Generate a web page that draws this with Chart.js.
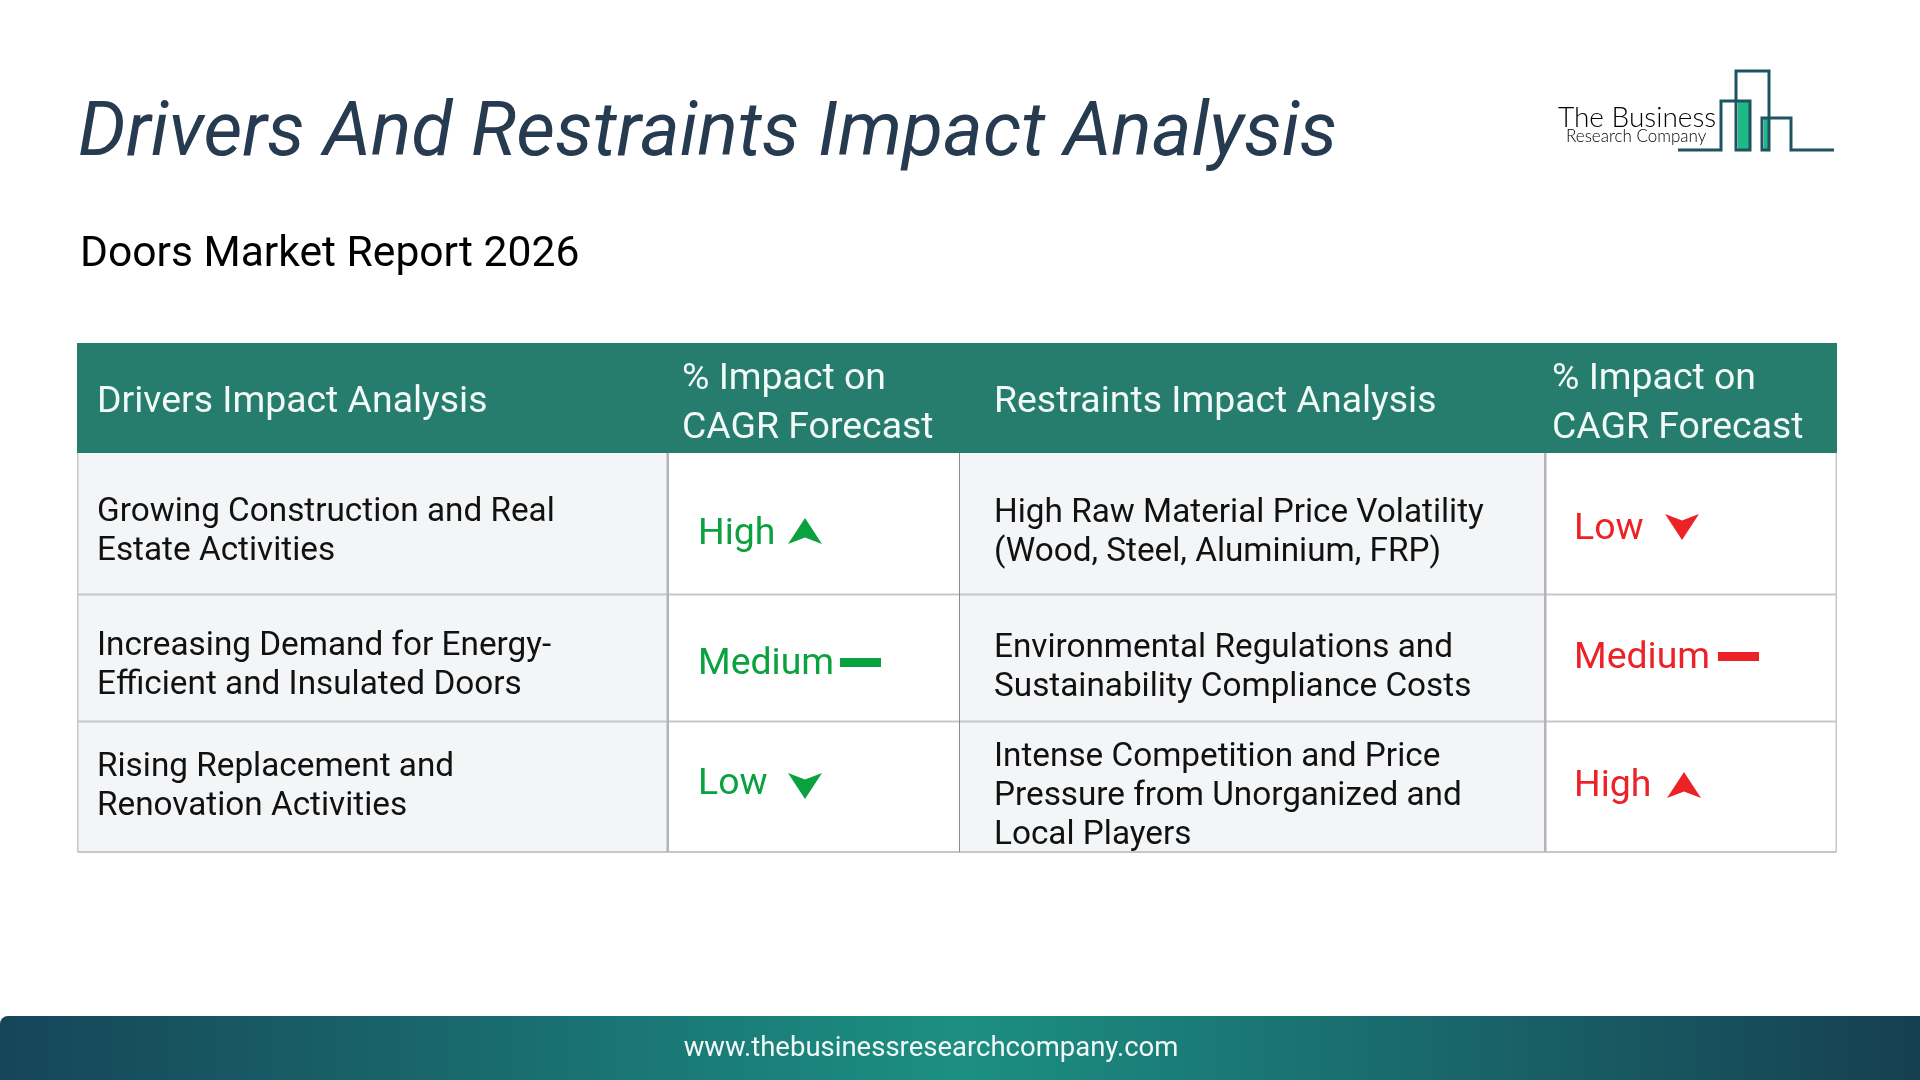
<!DOCTYPE html>
<html><head><meta charset="utf-8">
<style>html,body{margin:0;padding:0;background:#fff;overflow:hidden}canvas{display:block}</style>
<script src="https://cdn.jsdelivr.net/npm/chart.js@4"></script>
</head><body><canvas id="c" width="1920" height="1080"></canvas>
<script>
// ---- content
const chartTitle = "Drivers And Restraints Impact Analysis";
const chartSubtitle = "Doors Market Report 2026";
const footerUrl = "www.thebusinessresearchcompany.com";
const logoLines = ["The Business", "Research Company"];
const columnKeys = ["drivers", "driverImpact", "restraints", "restraintImpact"];
const rowKeys = ["first", "second", "third"];
const headerLabels = [["Drivers Impact Analysis"], ["% Impact on", "CAGR Forecast"], ["Restraints Impact Analysis"], ["% Impact on", "CAGR Forecast"]];
const driverLabels = [["Growing Construction and Real", "Estate Activities"], ["Increasing Demand for Energy-", "Efficient and Insulated Doors"], ["Rising Replacement and", "Renovation Activities"]];
const restraintLabels = [["High Raw Material Price Volatility", "(Wood, Steel, Aluminium, FRP)"], ["Environmental Regulations and", "Sustainability Compliance Costs"], ["Intense Competition and Price", "Pressure from Unorganized and", "Local Players"]];
const driverImpact = ["High", "Medium", "Low"];
const restraintImpact = ["Low", "Medium", "High"];

// ---- layout (page pixels)
const columnEdges = [77.5, 667.5, 959.5, 1545, 1836.5];
const rowEdges = [453, 594.5, 721.5, 852];
const headerTop = 343;
const bodyFont = '400 33.3px Roboto';
const impactFont = '400 37.4px Roboto';
const headerFont = '400 37.4px Roboto';
const green = '#0aa13f', red = '#ec2227', rowFill = '#f3f5f7', lineColor = '#c6c7ca', headerFill = '#267c6d';
const driverTextPos = {x: 97, baselines: [[521, 560], [655, 694], [776, 815]]};
const restraintTextPos = {x: 994, baselines: [[522, 561], [657, 696], [766, 805, 844]]};
const headerPos = [{x: 97, b: [412]}, {x: 682, b: [389, 438]}, {x: 994, b: [412]}, {x: 1552, b: [389, 438]}];
const driverImpactPos = {x: 698, baselines: [544, 674, 794]};
const restraintImpactPos = {x: 1574, baselines: [539, 668, 796]};
// marker centres relative to the centre of their table cell
const driverMarkerOffset = [[-8.5, 7.25], [47, 4.5], [-8.5, -0.75]];
const restraintMarkerOffset = [[-8.75, 3.25], [47.75, -1.5], [-6.75, -1.75]];

// ---- band scale: categories placed in bands of unequal size
class TableBandScale extends Chart.CategoryScale {
  static id = 'tableBand';
  static defaults = Chart.CategoryScale.defaults;
  getPixelForValue(value) {
    const i = typeof value === 'number' ? value : this.parse(value);
    const e = this.options.edges;
    return (e[i] + e[i + 1]) / 2;
  }
}
Chart.register(TableBandScale);

function glyph(kind, color) {
  const c = document.createElement('canvas');
  const g = c.getContext('2d');
  if (kind === 'Medium') {
    c.width = 41; c.height = 9;
    g.fillStyle = color; g.fillRect(0, 0, 41, 9);
    return c;
  }
  c.width = 34; c.height = 26;
  g.fillStyle = color;
  g.beginPath();
  if (kind === 'High') { g.moveTo(17, 0); g.lineTo(34, 26); g.lineTo(17, 19.5); g.lineTo(0, 26); }
  else { g.moveTo(17, 26); g.lineTo(34, 0); g.lineTo(17, 6.5); g.lineTo(0, 0); }
  g.closePath(); g.fill();
  return c;
}
const greenGlyphs = {High: glyph('High', green), Medium: glyph('Medium', green), Low: glyph('Low', green)};
const redGlyphs = {High: glyph('High', red), Medium: glyph('Medium', red), Low: glyph('Low', red)};

function text(ctx, s, x, y, font, color, spacing, align) {
  ctx.font = font; ctx.fillStyle = color; ctx.textAlign = align || 'left'; ctx.textBaseline = 'alphabetic';
  ctx.letterSpacing = spacing || '0px';
  ctx.fillText(s, x, y);
  ctx.letterSpacing = '0px';
}

const tablePlugin = {
  id: 'tablePlugin',
  afterDatasetsUpdate(chart) {
    [driverMarkerOffset, restraintMarkerOffset].forEach((off, d) => {
      chart.getDatasetMeta(d).data.forEach((el, i) => { el.x += off[i][0]; el.y += off[i][1]; });
    });
  },
  beforeDatasetsDraw(chart) {
    const ctx = chart.ctx, xs = chart.scales.x.options.edges, ys = chart.scales.y.options.edges;
    const L = xs[0], R = xs[4], T = ys[0], B = ys[3];
    ctx.save();
    // header and cells
    ctx.fillStyle = '#fff'; ctx.fillRect(L, T, R - L, B - T);
    ctx.fillStyle = rowFill;
    ctx.fillRect(xs[0], T, xs[1] - xs[0], B - T);
    ctx.fillRect(xs[2], T, xs[3] - xs[2], B - T);
    // rules
    ctx.fillStyle = lineColor;
    ys.slice(1).forEach(y => ctx.fillRect(L, y - 1, R - L, 2));
    ctx.fillRect(L - 0.5, T, 1.5, B - T);
    ctx.fillRect(R - 1, T, 1.5, B - T);
    ctx.fillStyle = '#b2b4b8';
    ctx.fillRect(xs[1] - 1, T, 2.5, B - T);
    ctx.fillRect(xs[3] - 1, T, 2.5, B - T);
    ctx.fillStyle = '#8a8c90';
    ctx.fillRect(xs[2] - 0.5, T, 1, B - T);
    ctx.fillStyle = headerFill; ctx.fillRect(L - 0.5, headerTop, R - L + 1, T - headerTop);

    // headline
    text(ctx, chartTitle, 78, 155, 'italic 400 75.4px Roboto', '#263a50');
    text(ctx, chartSubtitle, 80, 266, '400 42.6px Roboto', '#000');

    // table text
    headerLabels.forEach((lines, c) => lines.forEach((s, i) => text(ctx, s, headerPos[c].x, headerPos[c].b[i], headerFont, '#f1faf7')));
    driverLabels.forEach((lines, r) => lines.forEach((s, i) => text(ctx, s, driverTextPos.x, driverTextPos.baselines[r][i], bodyFont, '#111')));
    restraintLabels.forEach((lines, r) => lines.forEach((s, i) => text(ctx, s, restraintTextPos.x, restraintTextPos.baselines[r][i], bodyFont, '#111')));
    driverImpact.forEach((s, r) => text(ctx, s, driverImpactPos.x, driverImpactPos.baselines[r], impactFont, green));
    restraintImpact.forEach((s, r) => text(ctx, s, restraintImpactPos.x, restraintImpactPos.baselines[r], impactFont, red));

    // logo
    ctx.strokeStyle = '#1c5560'; ctx.lineWidth = 3; ctx.lineJoin = 'miter';
    ctx.fillStyle = '#1fb888';
    ctx.fillRect(1738, 102, 11, 47); ctx.fillRect(1764, 119, 4.5, 30);
    const sky = [[1678, 150], [1721, 150], [1721, 101], [1750, 101], [1750, 150], [1736, 150], [1736, 71], [1769, 71], [1769, 150], [1762, 150], [1762, 118], [1791, 118], [1791, 150], [1834, 150]];
    ctx.beginPath(); sky.forEach((p, i) => i ? ctx.lineTo(p[0], p[1]) : ctx.moveTo(p[0], p[1])); ctx.stroke();
    text(ctx, logoLines[0], 1558, 127, '300 28px Lato', '#000');
    text(ctx, logoLines[1], 1566, 142, '300 17px Lato', '#000');

    // footer
    const grad = ctx.createLinearGradient(0, 0, 1920, 0);
    grad.addColorStop(0, '#164559'); grad.addColorStop(0.5, '#1c8f82'); grad.addColorStop(1, '#163f52');
    ctx.fillStyle = grad;
    ctx.beginPath(); ctx.roundRect(0, 1016, 1920, 64, [8, 0, 0, 0]); ctx.fill();
    text(ctx, footerUrl, 931, 1056, '400 27.5px Roboto', '#f2f8f7', '0px', 'center');
    ctx.restore();
  }
};

new Chart(document.getElementById('c'), {
  type: 'scatter',
  data: {
    datasets: [
      {label: 'Drivers', data: driverImpact.map((v, r) => ({x: columnKeys[1], y: rowKeys[r], level: v})),
       pointStyle: ctx => greenGlyphs[ctx.raw.level], pointRadius: 10},
      {label: 'Restraints', data: restraintImpact.map((v, r) => ({x: columnKeys[3], y: rowKeys[r], level: v})),
       pointStyle: ctx => redGlyphs[ctx.raw.level], pointRadius: 10}
    ]
  },
  options: {
    responsive: false, animation: false, devicePixelRatio: 1,
    layout: {padding: 0},
    plugins: {legend: {display: false}, tooltip: {enabled: false}, title: {display: false}},
    scales: {
      x: {type: 'tableBand', labels: columnKeys, edges: columnEdges, display: false},
      y: {type: 'tableBand', labels: rowKeys, edges: rowEdges, display: false}
    }
  },
  plugins: [tablePlugin]
});
</script></body></html>
